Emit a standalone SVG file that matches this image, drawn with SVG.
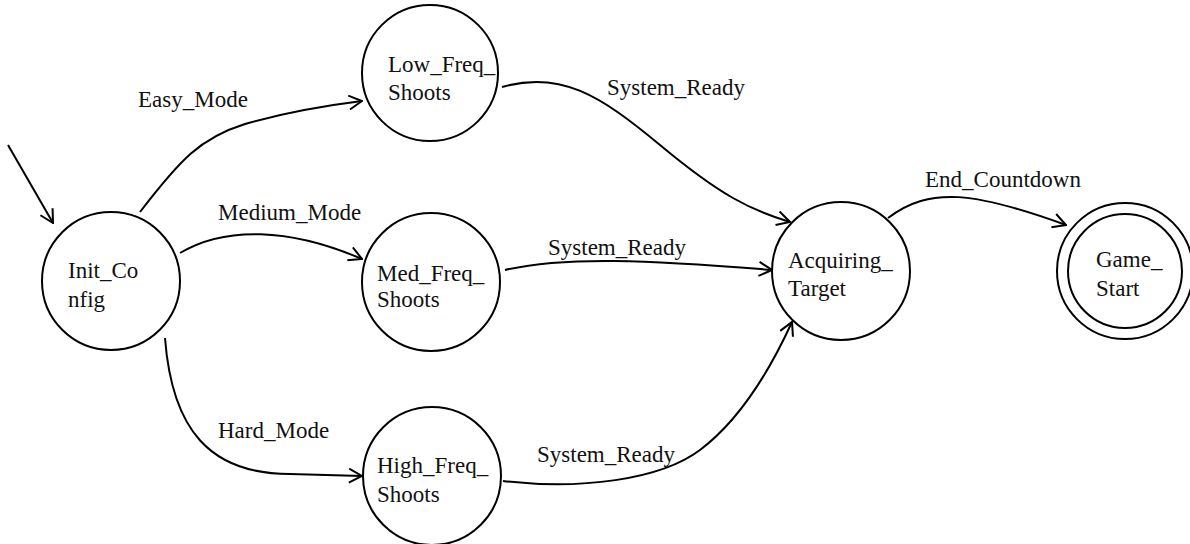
<svg xmlns="http://www.w3.org/2000/svg" width="1190" height="544" viewBox="0 0 1190 544">
<style>
  .node { fill: #ffffff; stroke: #000000; stroke-width: 2; }
  .lbl { font-family: "Liberation Serif", "DejaVu Serif", serif; font-size: 23px; fill: #111111; }
  .edge { fill: none; stroke: #000000; stroke-width: 2; marker-end: url(#arr); }
</style>
<defs>
  <marker id="arr" viewBox="0 0 15 16" refX="14" refY="8" markerWidth="15" markerHeight="16" markerUnits="userSpaceOnUse" orient="auto">
    <path d="M1,1 L14,8 L1,15" fill="none" stroke="#000000" stroke-width="2"/>
  </marker>
</defs>
<rect width="1190" height="544" fill="#ffffff"/>
<g id="connectors">
  <path class="edge" d="M8,145 L53,223"/>
  <path class="edge" d="M140,212 C180,160 200,138 245,124 C290,111 330,105 362,101"/>
  <path class="edge" d="M180,253 C225,226 290,228 362,259"/>
  <path class="edge" d="M165,338 C172,430 210,474 290,474 L362,476"/>
  <path class="edge" d="M502,87 C560,70 600,95 660,145 C720,195 750,210 790,222"/>
  <path class="edge" d="M505,270 C565,256 650,260 772,270"/>
  <path class="edge" d="M503,481 C580,490 660,480 700,450 C740,420 770,370 792,322"/>
  <path class="edge" d="M888,218 C930,186 975,192 1066,225"/>
  <text class="lbl" x="138" y="107">Easy_Mode</text>
  <text class="lbl" x="218" y="220">Medium_Mode</text>
  <text class="lbl" x="218" y="438">Hard_Mode</text>
  <text class="lbl" x="607" y="95">System_Ready</text>
  <text class="lbl" x="548" y="255">System_Ready</text>
  <text class="lbl" x="537" y="462">System_Ready</text>
  <text class="lbl" x="925" y="187">End_Countdown</text>
</g>
<g id="Init_Config">
  <circle class="node" cx="111" cy="281" r="69"/>
  <text class="lbl" x="68" y="278">Init_Co</text>
  <text class="lbl" x="68" y="307">nfig</text>
</g>
<g id="Low_Freq_Shoots">
  <circle class="node" cx="430" cy="73" r="68"/>
  <text class="lbl" x="388" y="72">Low_Freq_</text>
  <text class="lbl" x="388" y="100">Shoots</text>
</g>
<g id="Med_Freq_Shoots">
  <circle class="node" cx="431" cy="282" r="69"/>
  <text class="lbl" x="377" y="281">Med_Freq_</text>
  <text class="lbl" x="377" y="307">Shoots</text>
</g>
<g id="High_Freq_Shoots">
  <circle class="node" cx="432" cy="476" r="69"/>
  <text class="lbl" x="377" y="473">High_Freq_</text>
  <text class="lbl" x="377" y="502">Shoots</text>
</g>
<g id="Acquiring_Target">
  <circle class="node" cx="841" cy="271" r="69"/>
  <text class="lbl" x="788" y="268">Acquiring_</text>
  <text class="lbl" x="788" y="296">Target</text>
</g>
<g id="Game_Start">
  <circle class="node" cx="1125" cy="271" r="68"/>
  <circle class="node" cx="1125" cy="271" r="57"/>
  <text class="lbl" x="1096" y="267">Game_</text>
  <text class="lbl" x="1096" y="296">Start</text>
</g>
</svg>
